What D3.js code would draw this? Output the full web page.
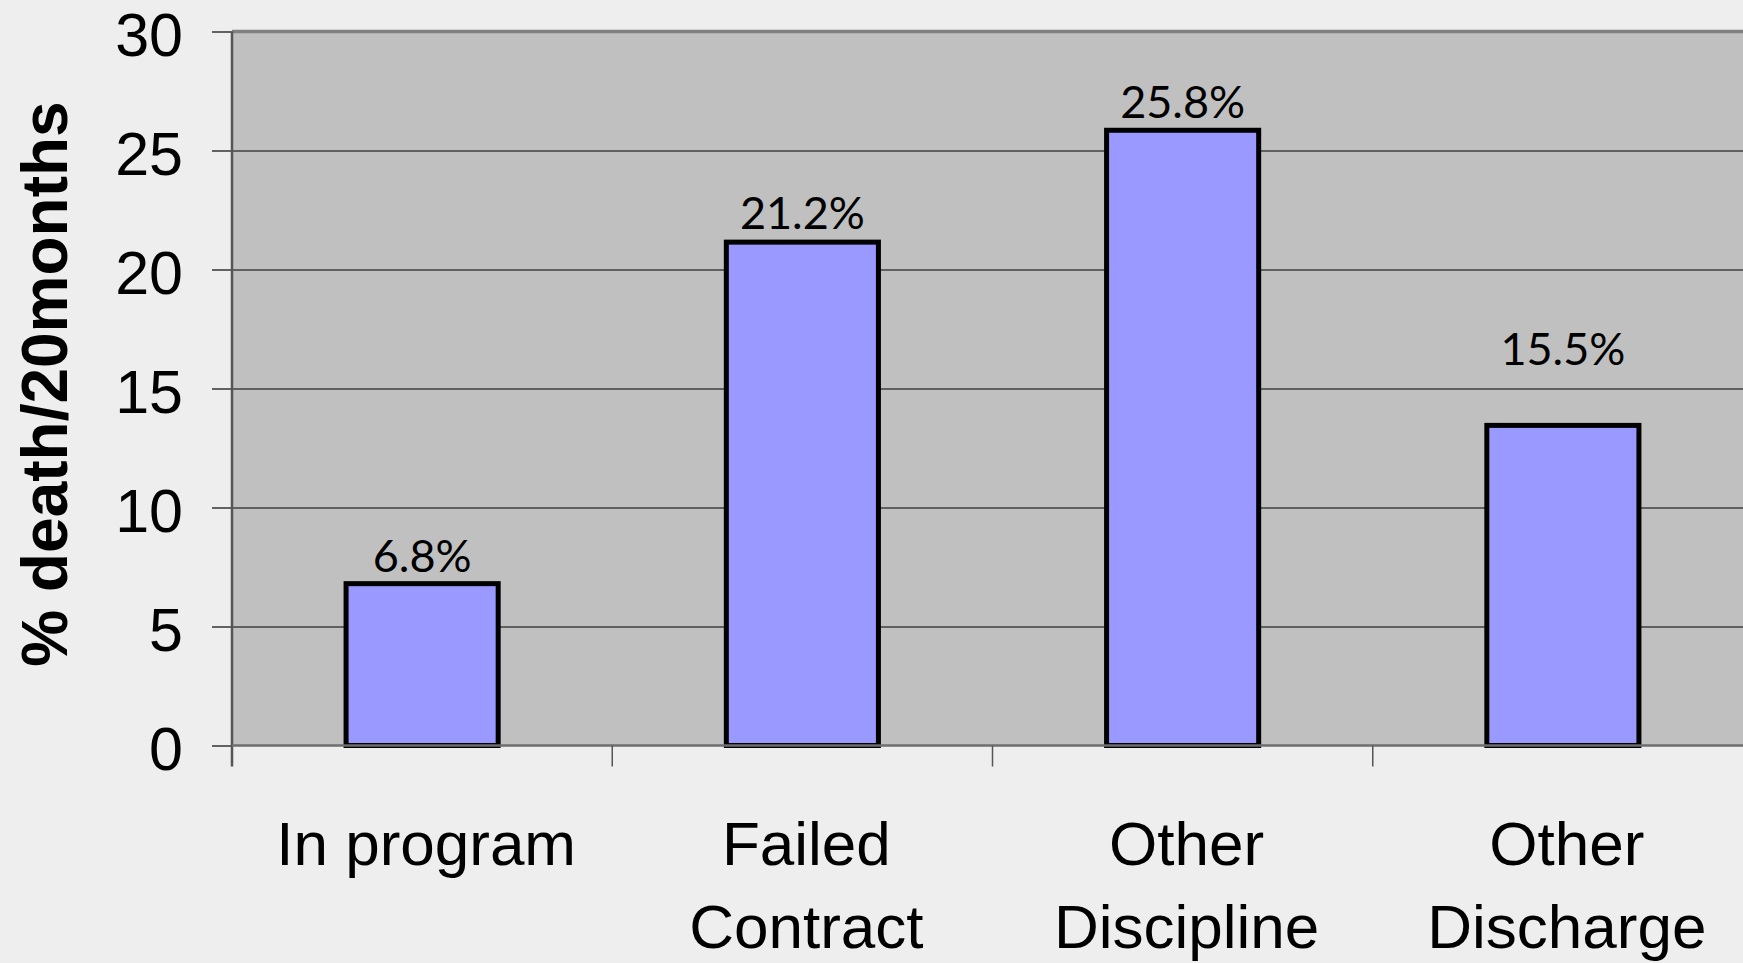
<!DOCTYPE html>
<html lang="en">
  <head>
    <meta charset="utf-8">
    <title>Deaths by program status</title>
    <script src="https://d3js.org/d3.v7.min.js"></script>
    <style>
      body { margin: 0; background: #eeeeee; }
    </style>
  </head>
  <body>
    <script type="text/javascript">

      var w = 1743;
      var h = 963;

      // data
      var categories = ["In program", "Failed\nContract", "Other\nDiscipline", "Other\nDischarge"];
      var values = [6.8, 21.15, 25.85, 13.45];
      var labels = ["6.8%", "21.2%", "25.8%", "15.5%"];
      var yTicks = [0, 5, 10, 15, 20, 25, 30];

      var plot = {left: 232, right: 1753, top: 31.5, bottom: 745.5};

      var svg = d3.select("body")
          .append("svg")
          .attr("width", w)
          .attr("height", h);

      svg.append("rect")
        .attr("width", w)
        .attr("height", h)
        .attr("fill", "#eeeeee");

      var yscale = d3.scaleLinear()
            .domain([0, 30])
            .range([plot.bottom, plot.top]);

      var xslot = d3.scaleBand()
            .domain(categories)
            .range([plot.left, plot.right]);

      var xbar = d3.scaleBand()
            .domain(categories)
            .range([plot.left, plot.right])
            .paddingInner(0.6)
            .paddingOuter(0.3);

      // plot area
      svg.append("rect")
        .attr("x", plot.left)
        .attr("y", plot.top)
        .attr("width", plot.right - plot.left)
        .attr("height", plot.bottom - plot.top)
        .attr("fill", "#c0c0c0");

      // gridlines
      var grid = svg.append("g")
        .attr("transform", "translate(" + plot.left + ",0)")
        .call(d3.axisLeft(yscale).tickValues(yTicks.slice(1, -1)).tickSize(-(plot.right - plot.left)).tickFormat(""));
      grid.select(".domain").remove();
      grid.selectAll("line").attr("stroke", "#404040").attr("stroke-width", 1.5);

      // top border
      svg.append("line")
        .attr("x1", plot.left).attr("x2", plot.right)
        .attr("y1", plot.top).attr("y2", plot.top)
        .attr("stroke", "#808080")
        .attr("stroke-width", 3.5);

      // bars
      svg.selectAll("rect.bar")
        .data(values)
        .enter()
        .append("rect")
        .attr("class", "bar")
        .attr("x", (d, i) => xbar(categories[i]))
        .attr("y", d => yscale(d))
        .attr("width", xbar.bandwidth())
        .attr("height", d => yscale(0) - yscale(d))
        .attr("fill", "#9999ff")
        .attr("stroke", "#000")
        .attr("stroke-width", 5);

      // data labels
      svg.selectAll("text.lbl")
        .data(labels)
        .enter()
        .append("text")
        .attr("class", "lbl")
        .attr("x", (d, i) => xbar(categories[i]) + xbar.bandwidth() / 2)
        .attr("y", (d, i) => yscale(Math.max(values[i], parseFloat(d))) - 12)
        .attr("text-anchor", "middle")
        .attr("font-family", "Lato, sans-serif")
        .attr("font-size", 45)
        .attr("fill", "#000")
        .text(d => d);

      // y axis
      var yaxis = svg.append("g")
        .attr("transform", "translate(" + plot.left + ",0)")
        .call(d3.axisLeft(yscale).tickValues(yTicks).tickSize(20).tickPadding(29));
      yaxis.select(".domain").remove();
      yaxis.selectAll("line").attr("stroke", "#333").attr("stroke-width", 1.5);
      yaxis.selectAll("text")
        .attr("font-family", "'Liberation Sans', Arial, sans-serif")
        .attr("font-size", 61)
        .attr("fill", "#000")
        .attr("dy", "0.4em");

      svg.append("line")
        .attr("x1", plot.left).attr("x2", plot.left)
        .attr("y1", plot.top).attr("y2", plot.bottom + 21)
        .attr("stroke", "#555")
        .attr("stroke-width", 2.5);

      // x axis
      svg.append("line")
        .attr("x1", plot.left).attr("x2", plot.right)
        .attr("y1", plot.bottom).attr("y2", plot.bottom)
        .attr("stroke", "#6e6e6e")
        .attr("stroke-width", 2.5);

      svg.selectAll("line.xtick")
        .data(categories.slice(1))
        .enter()
        .append("line")
        .attr("class", "xtick")
        .attr("x1", d => xslot(d)).attr("x2", d => xslot(d))
        .attr("y1", plot.bottom).attr("y2", plot.bottom + 21)
        .attr("stroke", "#555")
        .attr("stroke-width", 1.5);

      var catText = svg.selectAll("text.cat")
        .data(categories)
        .enter()
        .append("text")
        .attr("class", "cat")
        .attr("text-anchor", "middle")
        .attr("font-family", "'Liberation Sans', Arial, sans-serif")
        .attr("font-size", 62)
        .attr("fill", "#000");

      catText.selectAll("tspan")
        .data(d => d.split("\n").map(s => ({s: s, c: d})))
        .enter()
        .append("tspan")
        .attr("x", d => xslot(d.c) + xslot.bandwidth() / 2 + 4)
        .attr("y", (d, i) => 865 + i * 83)
        .text(d => d.s);

      // y title
      svg.append("text")
        .attr("transform", "translate(67,384) rotate(-90)")
        .attr("text-anchor", "middle")
        .attr("font-family", "'Liberation Sans', Arial, sans-serif")
        .attr("font-weight", "bold")
        .attr("font-size", 64)
        .attr("fill", "#000")
        .text("% death/20months");

    </script>
  </body>
</html>
